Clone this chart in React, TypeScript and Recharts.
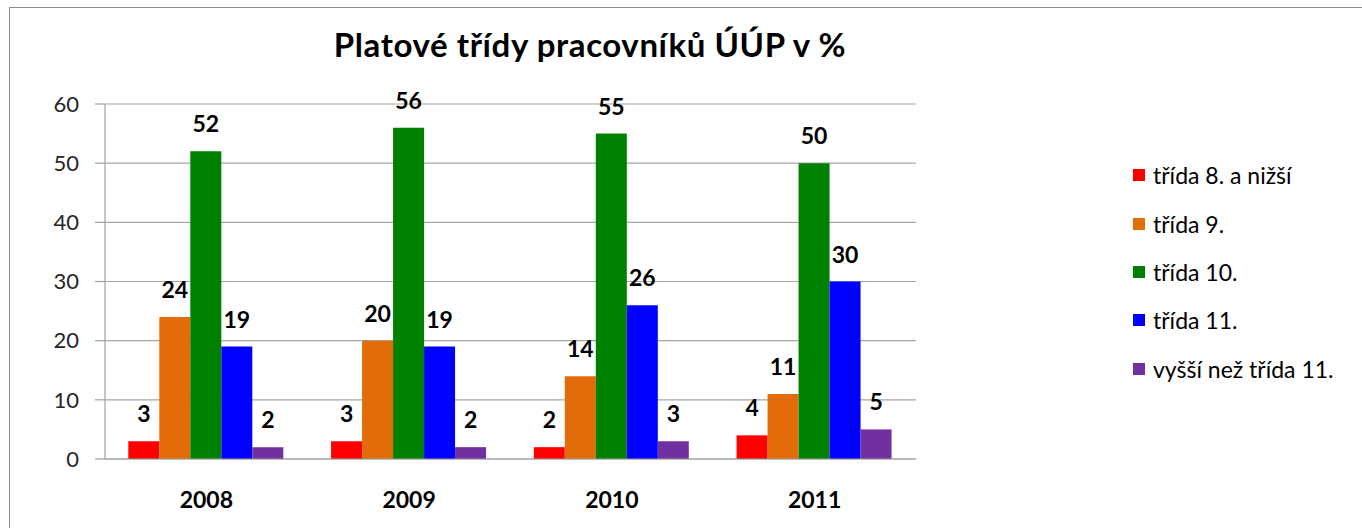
import { BarChart, Bar, XAxis, YAxis, CartesianGrid, LabelList } from "recharts";

const years = ["2008", "2009", "2010", "2011"];
const seriesNames = ["třída 8. a nižší", "třída 9.", "třída 10.", "třída 11.", "vyšší než třída 11."];
const seriesColors = ["#ff0000", "#e36c0a", "#008000", "#0000ff", "#7030a0"];
const trida8 = [3, 3, 2, 4];
const trida9 = [24, 20, 14, 11];
const trida10 = [52, 56, 55, 50];
const trida11 = [19, 19, 26, 30];
const vyssi = [2, 2, 3, 5];
const yTicks = [0, 10, 20, 30, 40, 50, 60];

const seriesValues = [trida8, trida9, trida10, trida11, vyssi];
const data = years.map((year, i) => {
  const row: Record<string, string | number> = { year };
  seriesValues.forEach((vals, s) => { row[`s${s}`] = vals[i]; });
  return row;
});

const FONT = "Lato, 'Noto Sans', sans-serif";

export default function App() {
  return (
    <div style={{
      position: "absolute", left: 9, top: 7, width: 1353, height: 521,
      borderTop: "1px solid #8c8c8c", borderLeft: "1px solid #8c8c8c",
      background: "#fff", fontFamily: FONT,
    }}>
      {/* Title */}
      <div style={{
        position: "absolute", left: 0, width: 1160, top: 16, textAlign: "center",
        fontSize: 33, fontWeight: 700, color: "#000", whiteSpace: "nowrap", letterSpacing: 0.6,
      }}>
        Platové třídy pracovníků ÚÚP v %
      </div>

      <BarChart
        width={1352}
        height={520}
        data={data}
        margin={{ top: 96, right: 446, bottom: 9, left: 0 }}
        barCategoryGap="11.5%"
        barGap={0}
      >
        <CartesianGrid vertical={false} stroke="#a6a6a6" strokeWidth={1.2} />
        <XAxis
          dataKey="year"
          axisLine={{ stroke: "#a0a0a0", strokeWidth: 1.2 }}
          tickLine={false}
          height={60}
          tickMargin={27}
          tick={{ fill: "#000", fontSize: 23, fontWeight: 700, fontFamily: FONT }}
        />
        <XAxis
          xAxisId="edge"
          type="number"
          domain={[0, 4]}
          ticks={[0, 1, 2, 3, 4]}
          allowDataOverflow
          axisLine={false}
          tick={false}
          tickSize={8}
          tickLine={{ stroke: "#a0a0a0", strokeWidth: 1.2 }}
          height={0}
        />
        <YAxis
          width={95}
          domain={[0, 60]}
          ticks={yTicks}
          interval={0}
          axisLine={{ stroke: "#a0a0a0", strokeWidth: 1.2 }}
          tickLine={{ stroke: "#a0a0a0", strokeWidth: 1.2 }}
          tickSize={10}
          tickMargin={16}
          tick={{ fill: "#262626", fontSize: 22, fontFamily: FONT }}
        />
        {seriesNames.map((name, s) => (
          <Bar key={name} dataKey={`s${s}`} name={name} fill={seriesColors[s]} isAnimationActive={false}>
            <LabelList
              dataKey={`s${s}`}
              position="top"
              offset={19}
              style={{ fill: "#000", fontSize: 23, fontWeight: 700, fontFamily: FONT }}
            />
          </Bar>
        ))}
      </BarChart>

      {/* Legend */}
      <div style={{ position: "absolute", left: 1123, top: 143 }}>
        {seriesNames.map((name, s) => (
          <div key={name} style={{ display: "flex", alignItems: "center", height: 48.4, fontSize: 23, color: "#000" }}>
            <span style={{ width: 12, height: 12, background: seriesColors[s], marginRight: 8, display: "inline-block" }} />
            {name}
          </div>
        ))}
      </div>
    </div>
  );
}
